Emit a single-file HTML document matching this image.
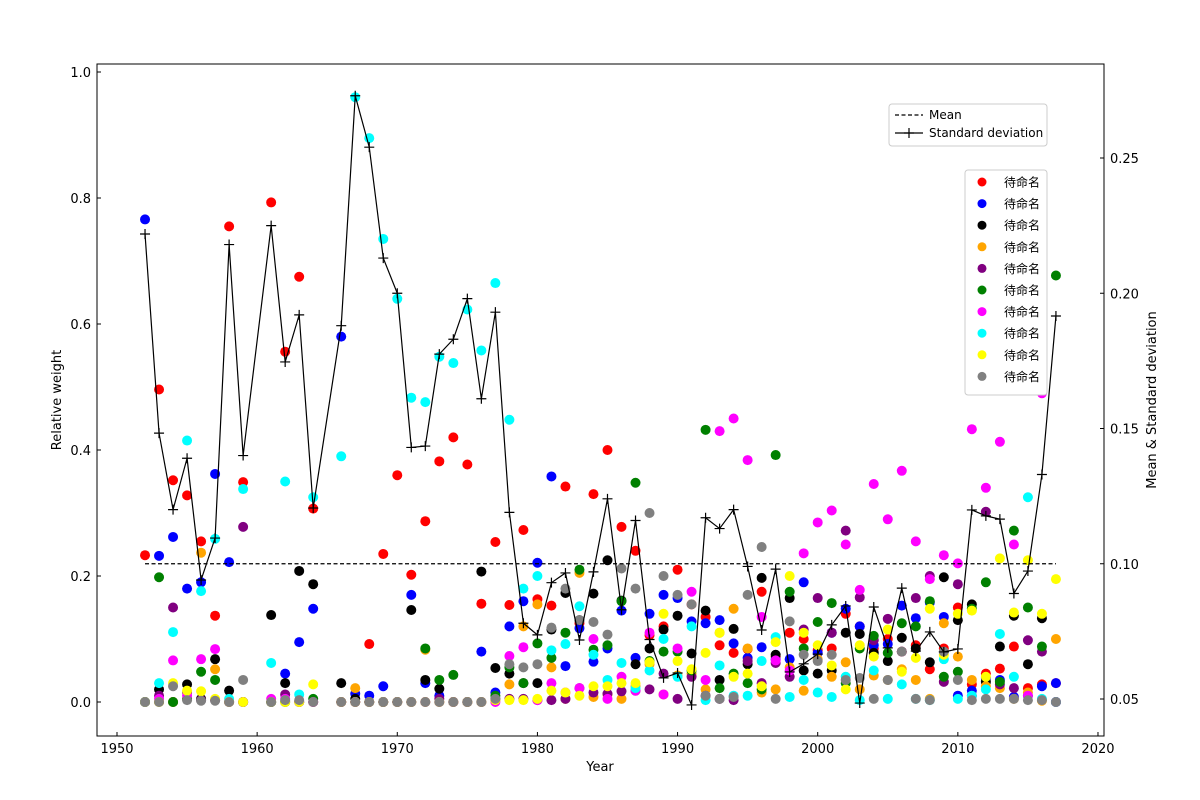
<!DOCTYPE html>
<html><head><meta charset="utf-8"><style>
body{margin:0;background:#fff;}
svg{display:block;font-family:"DejaVu Sans","Liberation Sans","Noto Sans CJK SC",sans-serif;}
</style></head><body>
<svg id="chart" width="1200" height="800" xmlns="http://www.w3.org/2000/svg"></svg>
<script>
const years=[1952,1953,1954,1955,1956,1957,1958,1959,1961,1962,1963,1964,1966,1967,1968,1969,1970,1971,1972,1973,1974,1975,1976,1977,1978,1979,1980,1981,1982,1983,1984,1985,1986,1987,1988,1989,1990,1991,1992,1993,1994,1995,1996,1997,1998,1999,2000,2001,2002,2003,2004,2005,2006,2007,2008,2009,2010,2011,2012,2013,2014,2015,2016,2017];
const stdDev=[0.2219,0.1483,0.120,0.139,0.094,0.1095,0.218,0.140,0.225,0.1746,0.192,0.1206,0.188,0.273,0.254,0.213,0.200,0.143,0.1435,0.1775,0.183,0.198,0.161,0.193,0.119,0.078,0.0737,0.093,0.0966,0.0718,0.097,0.124,0.083,0.116,0.072,0.0578,0.0596,0.0478,0.117,0.113,0.120,0.099,0.0755,0.098,0.060,0.063,0.0666,0.0774,0.0844,0.0485,0.084,0.0689,0.091,0.0677,0.0748,0.0674,0.0685,0.1199,0.1177,0.1165,0.089,0.0973,0.133,0.1916];
const meanValue=0.10;
const seriesColors=["red","blue","black","orange","purple","green","magenta","cyan","yellow","gray"];
const seriesNames=["待命名","待命名","待命名","待命名","待命名","待命名","待命名","待命名","待命名","待命名"];
const rows=[
[.233,.766,0,0,0,0,0,0,0,0],
[.496,.232,.02,0,.01,.198,.005,.03,0,0],
[.352,.262,0,0,.15,0,.066,.111,.03,.025],
[.328,.18,.028,.005,.015,.005,.01,.415,.018,.003],
[.255,.19,.005,.237,.003,.048,.068,.176,.017,.002],
[.137,.362,.068,.052,.003,.035,.084,.259,.005,.002],
[.755,.222,.018,0,0,0,0,.005,0,0],
[.349,0,0,0,.278,0,0,.338,0,.035],
[.793,0,.138,0,0,0,.005,.062,0,0],
[.556,.045,.03,0,.012,0,.005,.35,0,.003],
[.675,.095,.208,0,0,0,0,.012,0,.003],
[.307,.148,.187,0,0,.005,0,.325,.028,0],
[0,.58,.03,0,0,0,0,.39,0,0],
[0,.013,.005,.022,0,0,0,.96,0,0],
[.092,.01,0,0,0,0,0,.895,0,0],
[.235,.025,0,0,0,0,0,.735,0,0],
[.36,0,0,0,0,0,0,.64,0,0],
[.202,.17,.146,0,0,0,0,.483,0,0],
[.287,.03,.035,.083,0,.085,0,.476,0,0],
[.382,.01,.021,0,.005,.035,0,.548,0,0],
[.42,0,0,0,0,.043,0,.538,0,0],
[.377,0,0,0,0,0,0,.623,0,0],
[.156,.08,.207,0,0,0,0,.558,0,0],
[.254,.015,.054,.003,.005,.01,0,.665,.003,.005],
[.154,.12,.045,.028,.005,.055,.073,.448,.003,.06],
[.273,.16,.03,.12,.005,.03,.087,.18,.003,.055],
[.163,.221,.03,.155,.003,.093,.003,.2,.005,.06],
[.153,.358,.115,.055,.003,.07,.03,.082,.018,.118],
[.342,.057,.173,.005,.005,.11,.015,.092,.015,.18],
[.125,.117,.13,.205,.022,.21,.022,.152,.01,.13],
[.33,.064,.172,.008,.015,.083,.1,.075,.025,.127],
[.4,.085,.225,.012,.013,.09,.005,.035,.025,.107],
[.278,.145,.161,.005,.017,.16,.04,.062,.03,.212],
[.24,.07,.06,.025,.018,.348,.018,.022,.03,.18],
[.106,.14,.085,.06,.02,.065,.11,.05,.063,.3],
[.12,.17,.115,.012,.045,.08,.012,.1,.14,.2],
[.21,.165,.137,.042,.005,.08,.085,.04,.065,.17],
[.155,.128,.077,.045,.04,.05,.175,.12,.052,.155],
[.135,.125,.145,.02,.01,.432,.035,.003,.078,.01],
[.09,.13,.035,.11,.005,.022,.43,.058,.11,.005],
[.078,.093,.116,.148,.003,.045,.45,.01,.04,.008],
[.084,.07,.06,.085,.065,.03,.384,.01,.045,.17],
[.175,.087,.197,.015,.03,.02,.135,.065,.025,.246],
[.072,.068,.075,.02,.062,.392,.066,.103,.095,.005],
[.11,.068,.165,.055,.04,.175,.05,.008,.2,.128],
[.1,.19,.05,.018,.115,.085,.236,.035,.11,.075],
[.082,.078,.045,.068,.165,.127,.285,.015,.09,.065],
[.085,.11,.05,.04,.11,.157,.304,.008,.058,.075],
[.14,.148,.11,.063,.272,.03,.25,.04,.02,.035],
[.12,.12,.108,.02,.166,.085,.178,.003,.09,.038],
[.085,.09,.078,.042,.098,.105,.346,.05,.072,.005],
[.1,.092,.065,.035,.132,.078,.29,.005,.115,.035],
[.08,.153,.102,.052,.08,.125,.367,.028,.048,.08],
[.09,.133,.085,.035,.165,.12,.255,.005,.07,.005],
[.052,.158,.063,.005,.2,.16,.195,.003,.148,.003],
[.085,.135,.198,.125,.032,.04,.233,.068,.075,.08],
[.15,.01,.13,.072,.187,.048,.22,.005,.14,.035],
[.028,.018,.155,.035,.01,.148,.433,.01,.145,.003],
[.045,.038,.032,.025,.302,.19,.34,.02,.04,.005],
[.053,.035,.088,.022,.028,.032,.413,.108,.228,.005],
[.088,.008,.137,.005,.022,.272,.25,.04,.142,.005],
[.022,.01,.06,.015,.098,.15,.01,.325,.225,.003],
[.028,.025,.133,.002,.08,.088,.49,.005,.14,.003],
[.03,.03,0,.1,0,.677,0,0,.195,0]];
const xTicks=[1950,1960,1970,1980,1990,2000,2010,2020];
const yTicks=[0.0,0.2,0.4,0.6,0.8,1.0];
const y2Ticks=[0.05,0.10,0.15,0.20,0.25];

const NS="http://www.w3.org/2000/svg";
const svg=document.getElementById('chart');
const L=97,R=1104,T=64,B=736;
const xs=v=>117+(v-1950)*14.014;
const ys=v=>702-v*630;
const ys2=v=>699-(v-0.05)*2705;
function el(tag,attrs,parent){const e=document.createElementNS(NS,tag);for(const k in attrs)e.setAttribute(k,attrs[k]);(parent||svg).appendChild(e);return e;}

// points
const gp=el('g',{});


for(let s=0;s<10;s++){
  const g=el('g',{},gp);
  
  
  years.forEach((yr,i)=>{
    const c=el('circle',{cx:xs(yr),cy:ys(rows[i][s]),r:5,fill:seriesColors[s]},g);
    
    
  });
}
// mean line
const ml=el('line',{x1:xs(years[0]),x2:xs(years[years.length-1]),y1:ys2(meanValue),y2:ys2(meanValue),stroke:'#000','stroke-width':1.2,'stroke-dasharray':'4,2.5'});


// std line
const sp=el('polyline',{points:years.map((y,i)=>xs(y)+','+ys2(stdDev[i])).join(' '),fill:'none',stroke:'#000','stroke-width':1.2});


years.forEach((y,i)=>{
  const x=xs(y),yy=ys2(stdDev[i]);
  const m=el('path',{d:`M${x-5},${yy}H${x+5}M${x},${yy-5}V${yy+5}`,stroke:'#000','stroke-width':1.2});
  
  
});
// frame
const fr=el('rect',{x:L,y:T,width:R-L,height:B-T,fill:'none',stroke:'#000','stroke-width':1});


// ticks
xTicks.forEach(t=>{
  const x=xs(t);
  el('line',{x1:x,x2:x,y1:B,y2:B-4,stroke:'#000'});
  const tx=el('text',{x:x,y:B+17,'text-anchor':'middle','font-size':13});tx.textContent=t;
  
  
});
yTicks.forEach(t=>{
  const y=ys(t);
  el('line',{x1:L,x2:L+4,y1:y,y2:y,stroke:'#000'});
  const tx=el('text',{x:L-6,y:y+5,'text-anchor':'end','font-size':13});tx.textContent=t.toFixed(1);
  
  
});
y2Ticks.forEach(t=>{
  const y=ys2(t);
  el('line',{x1:R,x2:R-4,y1:y,y2:y,stroke:'#000'});
  const tx=el('text',{x:R+6,y:y+5,'text-anchor':'start','font-size':13});tx.textContent=t.toFixed(2);
  
  
});
// axis titles
let t=el('text',{x:600,y:771,'text-anchor':'middle','font-size':13});t.textContent='Year';


t=el('text',{x:0,y:0,'text-anchor':'middle','font-size':13,transform:'translate(61,400) rotate(-90)'});t.textContent='Relative weight';


t=el('text',{x:0,y:0,'text-anchor':'middle','font-size':13,transform:'translate(1156,400) rotate(-90)'});t.textContent='Mean & Standard deviation';


// legend 1
const lg1=el('g',{});


el('rect',{x:889,y:104,width:158,height:42,rx:3,fill:'#fff',stroke:'#ccc'},lg1);
el('line',{x1:895,x2:923,y1:115,y2:115,stroke:'#000','stroke-width':1.2,'stroke-dasharray':'4,2.5'},lg1);
t=el('text',{x:929,y:119,'font-size':12},lg1);t.textContent='Mean';
el('line',{x1:895,x2:923,y1:133,y2:133,stroke:'#000','stroke-width':1.2},lg1);
el('path',{d:'M904,133H914M909,128V138',stroke:'#000','stroke-width':1.2},lg1);
t=el('text',{x:929,y:137,'font-size':12},lg1);t.textContent='Standard deviation';
// legend 2
const lg2=el('g',{});


el('rect',{x:965,y:170,width:82,height:225,rx:3,fill:'#fff',stroke:'#ccc'},lg2);
seriesColors.forEach((c,i)=>{
  const y=182+i*21.6;
  const g=el('g',{},lg2);
  
  
  el('circle',{cx:982,cy:y,r:4.5,fill:c},g);
  const tx=el('text',{x:1004,y:y+4.5,'font-size':12,'font-family':'"Noto Sans CJK SC",sans-serif'},g);tx.textContent=seriesNames[i];
});
</script>
</body></html>
